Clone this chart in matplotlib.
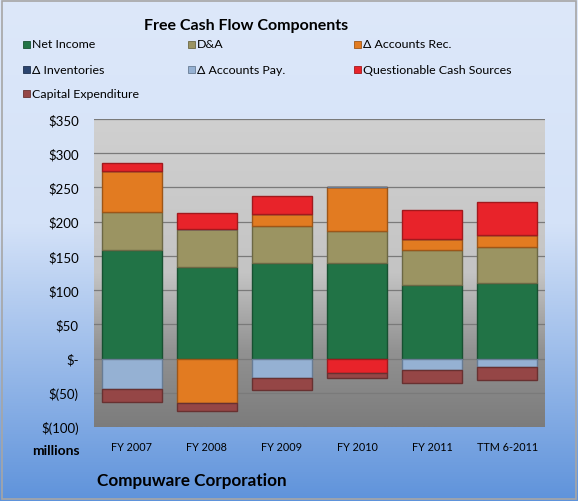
import numpy as np
import matplotlib.pyplot as plt
import matplotlib.colors as mcolors

plt.rcParams['font.family'] = ['Lato', 'DejaVu Sans']

years = ['FY 2007', 'FY 2008', 'FY 2009', 'FY 2010', 'FY 2011', 'TTM 6-2011']
series = ['Net Income', 'D&A', 'Δ Accounts Rec.', 'Δ Inventories',
          'Δ Accounts Pay.', 'Questionable Cash Sources', 'Capital Expenditure']

net_income = [158, 134, 140, 140, 108, 111]
d_and_a = [56, 56, 53, 47, 50, 52]
accounts_rec = [60, -65, 18, 64, 16, 18]
inventories = [0, 0, 0, 0, 0, 0]
accounts_pay = [-45, 0, -29, 0, -16, -12]
questionable = [11, 22, 26, -21, 43, 48]
capex = [-18, -11, -17, -7, -20, -20]

colors = ['#217346', '#9b9462', '#e27b21', '#2b4570', '#95b1d3', '#e8232a', '#954646']

data = [net_income, d_and_a, accounts_rec, inventories, accounts_pay, questionable, capex]

fig = plt.figure(figsize=(5.78, 5.02), dpi=100)

# figure background gradient (light blue -> darker blue)
bg = fig.add_axes([0, 0, 1, 1], zorder=-10)
grad = np.linspace(0, 1, 256).reshape(-1, 1)
cmap_bg = mcolors.LinearSegmentedColormap.from_list(
    'bg', [(0, '#dde8fa'), (0.45, '#d4e2f8'), (1, '#5f93db')])
bg.imshow(grad, aspect='auto', cmap=cmap_bg, extent=[0, 1, 0, 1], origin='upper')
bg.set_xlim(0, 1)
bg.set_ylim(0, 1)
bg.axis('off')
bg.add_patch(plt.Rectangle((0.004, 0.004), 0.992, 0.992, fill=False,
                           edgecolor='#a6a6a6', linewidth=1.2))

ax = fig.add_axes([94 / 578, 74 / 502, 451 / 578, 308 / 502])

# plot area gradient (light grey -> dark grey)
cmap_pa = mcolors.LinearSegmentedColormap.from_list(
    'pa', [(0, '#d0d0d0'), (0.5, '#c4c4c4'), (0.75, '#929292'), (1, '#7c7c7c')])
ax.imshow(grad, aspect='auto', cmap=cmap_pa, extent=[-0.5, 5.5, -100, 350],
          origin='upper', zorder=0)

x = np.arange(len(years))
pos_bottom = np.zeros(len(years))
neg_bottom = np.zeros(len(years))
for name, vals, col in zip(series, data, colors):
    vals = np.array(vals, dtype=float)
    bottom = np.where(vals >= 0, pos_bottom, neg_bottom)
    edge = tuple(c * 0.7 for c in mcolors.to_rgb(col))
    ax.bar(x, vals, 0.8, bottom=bottom, color=col, edgecolor=edge,
           linewidth=1.0, label=name, zorder=3)
    pos_bottom += np.where(vals >= 0, vals, 0)
    neg_bottom += np.where(vals < 0, vals, 0)

ax.set_xlim(-0.5, 5.5)
ax.set_ylim(-100, 350)
ticks = np.arange(-100, 351, 50)
ax.set_yticks(ticks)


def fmt(v):
    if v == 0:
        return '$-'
    if v < 0:
        return '$(%d)' % -v
    return '$%d' % v


ax.set_yticklabels([fmt(t) for t in ticks], fontsize=9.5)
ax.set_xticks(x)
ax.set_xticklabels(years, fontsize=7.8)
ax.tick_params(axis='y', length=0, pad=11)
ax.tick_params(axis='x', length=0, pad=10)
ax.yaxis.grid(True, color='#7a7a7a', linewidth=0.9, zorder=1)
ax.set_axisbelow(True)
for s in ax.spines.values():
    s.set_visible(False)

fig.text(246 / 578, 1 - 26 / 502, 'Free Cash Flow Components', ha='center',
         va='center', fontsize=11.5, fontweight='bold')
fig.text(80 / 578, 1 - 451 / 502, 'millions', ha='right', va='center',
         fontsize=10, fontweight='bold')
fig.text(97 / 578, 1 - 481 / 502, 'Compuware Corporation', ha='left',
         va='center', fontsize=12.3, fontweight='bold')

# legend, laid out as in the reference (3 columns, row-major)
leg_x = [23, 188, 354]
leg_y = [45, 70, 94]
for i, (name, col) in enumerate(zip(series, colors)):
    px = leg_x[i % 3]
    py = leg_y[i // 3]
    edge = tuple(c * 0.7 for c in mcolors.to_rgb(col))
    fig.add_artist(plt.Rectangle((px / 578, 1 - (py + 3.5) / 502), 7 / 578, 7 / 502,
                                 facecolor=col, edgecolor=edge, linewidth=0.6,
                                 transform=fig.transFigure))
    fig.text((px + 9) / 578, 1 - py / 502, name, ha='left', va='center',
             fontsize=8.9)

fig.savefig('out.png', dpi=100)
